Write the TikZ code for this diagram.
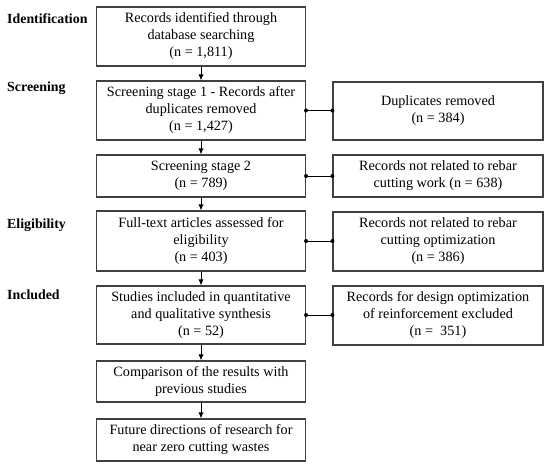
\documentclass[tikz,border=0pt]{standalone}
\usepackage{fontspec}
\setmainfont{Liberation Serif}
\usetikzlibrary{arrows.meta}
\begin{document}
\begin{tikzpicture}[x=1pt,y=-1pt,
  box/.style={draw=black!75,line width=1.1pt,align=center,inner sep=0pt,
    font=\fontsize{14.2}{17}\selectfont},
  stage/.style={anchor=west,font=\fontsize{13.9}{15}\selectfont\bfseries,inner sep=0pt},
  arr/.style={line width=0.8pt,-{Latex[length=6pt,width=5pt]}},
  con/.style={line width=0.9pt},
  dot/.style={fill=black}]
\useasboundingbox (0,0) rectangle (550,468);
% left column
\node[box,minimum width=209pt,minimum height=59pt] (b1) at (201,36.5) {Records identified through\\database searching\\(n = 1,811)};
\node[box,minimum width=209pt,minimum height=59pt] (b2) at (201,110.5) {Screening stage 1 - Records after\\duplicates removed\\(n = 1,427)};
\node[box,minimum width=209pt,minimum height=42pt] (b3) at (201,176) {Screening stage 2\\(n = 789)};
\node[box,minimum width=209pt,minimum height=60pt] (b4) at (201,241) {Full-text articles assessed for\\eligibility\\(n = 403)};
\node[box,minimum width=209pt,minimum height=58pt] (b5) at (201,315) {Studies included in quantitative\\and qualitative synthesis\\(n = 52)};
\node[box,minimum width=209pt,minimum height=41pt] (b6) at (201,381.5) {Comparison of the results with\\previous studies};
\node[box,minimum width=209pt,minimum height=42pt] (b7) at (201,440) {Future directions of research for\\near zero cutting wastes};
% right column
\node[box,minimum width=210pt,minimum height=58pt] (r1) at (438,111) {Duplicates removed\\(n = 384)};
\node[box,minimum width=210pt,minimum height=42pt] (r2) at (438,176) {Records not related to rebar\\cutting work (n = 638)};
\node[box,minimum width=210pt,minimum height=59pt] (r3) at (438,241.5) {Records not related to rebar\\cutting optimization\\(n = 386)};
\node[box,minimum width=210pt,minimum height=59pt] (r4) at (438,315.5) {Records for design optimization\\of reinforcement excluded\\(n =\ \ 351)};
% stage labels
\node[stage] (s1) at (7,19) {Identification};
\node[stage] (s2) at (7,88) {Screening};
\node[stage] (s3) at (7,225) {Eligibility};
\node[stage] (s4) at (7,295) {Included};
% arrows
\foreach \a/\b in {b1/b2,b2/b3,b3/b4,b4/b5,b5/b6,b6/b7}
  \draw[arr] (\a.south) -- (\b.north);
% connectors
\foreach \a/\b in {b2/r1,b3/r2,b4/r3,b5/r4}{
  \draw[con] (\a.east) -- (\a.east -| \b.west);
  \fill[dot] (\a.east) circle (2pt);
  \fill[dot] (\a.east -| \b.west) circle (2pt);
}
\end{tikzpicture}
\end{document}
